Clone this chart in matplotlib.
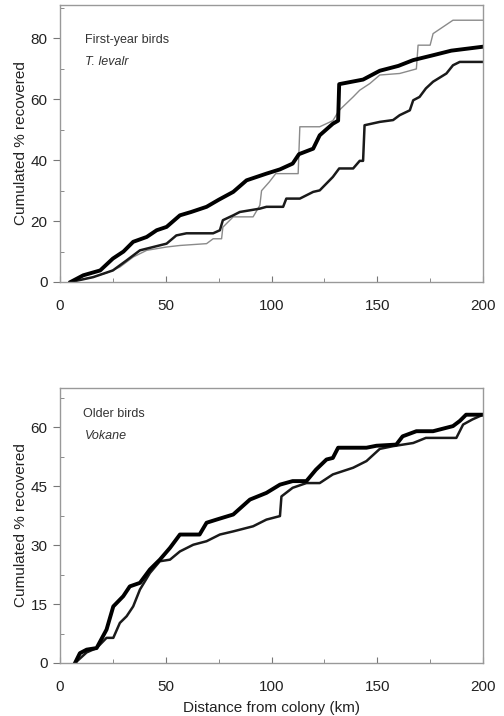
import matplotlib.pyplot as plt
from matplotlib.ticker import MultipleLocator

plt.rcParams['font.family'] = ['Liberation Sans', 'DejaVu Sans']

# Panel 1: first-year birds
top_thick_x = [5, 11, 19, 25, 30, 34.6, 41, 45.7, 50.4, 56.7, 62, 69.3, 75, 81.9, 88.2, 97.6, 104,
               110, 113, 119.7, 122.8, 129, 131.5, 132, 143.3, 151.2, 160, 167, 176.4, 185, 200]
top_thick_y = [0, 2.2, 3.8, 7.7, 10, 13.2, 14.8, 17, 18.1, 21.9, 23, 24.7, 27, 29.6, 33.4, 35.6, 37,
               38.9, 42, 43.8, 48.2, 52, 53, 65, 66.5, 69.4, 71, 72.9, 74.5, 76, 77.3]

top_mid_x = [5, 15.7, 25, 31.5, 37.8, 50.4, 55, 59.8, 72.4, 75.6, 77, 81.9, 85, 94.5, 97.6, 105.5,
             107, 113.4, 119.7, 122.8, 129, 132, 138.6, 141.7, 143.3, 144, 151.2, 157.5, 160.6,
             165.4, 167, 170, 173, 176.4, 182.7, 185.8, 189, 200]
top_mid_y = [0, 1.6, 3.8, 7.1, 10.4, 12.6, 15.3, 16, 16, 17, 20.3, 21.9, 23, 24.1, 24.7, 24.7,
             27.4, 27.4, 29.6, 30.1, 34.5, 37.3, 37.3, 39.8, 39.8, 51.5, 52.6, 53.2, 54.8,
             56.4, 59.7, 60.8, 63.6, 65.8, 68.5, 71.2, 72.3, 72.3]

top_thin_x = [5, 15, 22, 28.3, 34.6, 41, 50.4, 56.7, 69.3, 72.4, 76.4, 77, 81.9, 91.3, 94.5, 95.3,
              99, 102, 112.6, 113.4, 122.8, 129, 132, 138.6, 141.7, 146.5, 151.2, 160.6, 168.5,
              169.3, 175, 176.4, 185.8, 200]
top_thin_y = [0, 1.5, 3, 4.9, 8.2, 10.4, 11.5, 12, 12.6, 14.2, 14.2, 18, 21.4, 21.4, 25.2, 30,
              32.9, 35.6, 35.6, 51, 51, 53, 56.4, 60.8, 63, 65.2, 68, 68.5, 70,
              77.8, 77.8, 81.6, 86, 86]

# Panel 2: older birds
bot_thick_x = [7.1, 9.4, 12.6, 17.3, 22, 25.2, 29.9, 33, 37.8, 42.5, 47.2, 52, 56.7, 66, 69.3, 74,
               81.9, 89.8, 97.6, 104, 110, 116.5, 121, 126, 129, 131.5, 144.9, 149.6, 159, 162,
               168.5, 176.4, 185.8, 189, 192, 200]
bot_thick_y = [0, 2.5, 3.4, 3.8, 8.5, 14.4, 17, 19.5, 20.4, 23.8, 26.3, 29.3, 32.7, 32.7, 35.7, 36.5,
               37.8, 41.6, 43.3, 45.4, 46.3, 46.3, 49.2, 51.8, 52.2, 54.8, 54.8, 55.3, 55.6, 57.7,
               59, 59, 60.3, 61.6, 63.2, 63.2]

bot_mid_x = [7.1, 12.6, 17.3, 22, 25.2, 28.3, 31.5, 34.6, 37.8, 42.5, 47.2, 52, 56.7, 63, 69.3,
             75.6, 81.9, 91.3, 97.6, 104, 104.7, 110, 116.5, 122.8, 129, 138.6, 144.9, 151.2,
             157.5, 167, 173, 187.4, 190.6, 195, 200]
bot_mid_y = [0, 2.7, 3.8, 6.4, 6.4, 10.2, 11.9, 14.4, 18.7, 22.9, 25.9, 26.3, 28.4, 30.1, 31,
             32.7, 33.5, 34.8, 36.5, 37.4, 42.4, 44.6, 45.8, 45.8, 48, 49.7, 51.4, 54.5,
             55.2, 56, 57.3, 57.3, 60.7, 62, 63.2]

fig = plt.figure(figsize=(5.04, 7.16), dpi=100)
W, H = 504, 716
ax1 = fig.add_axes([60 / W, 1 - 282 / H, 423 / W, 277 / H])
ax2 = fig.add_axes([60 / W, 1 - 663 / H, 423 / W, 275 / H])

ax1.plot(top_thin_x, top_thin_y, color='#8a8a8a', lw=1.0)
ax1.plot(top_mid_x, top_mid_y, color='#1a1a1a', lw=1.8)
ax1.plot(top_thick_x, top_thick_y, color='black', lw=2.8)
ax1.set_ylim(0, 91)
ax1.yaxis.set_major_locator(MultipleLocator(20))
ax1.yaxis.set_minor_locator(MultipleLocator(10))
ax1.text(0.059, 0.874, 'First-year birds', transform=ax1.transAxes, fontsize=9, va='center',
         color='#333333')
ax1.text(0.059, 0.794, 'T. levalr', transform=ax1.transAxes, fontsize=9, va='center',
         style='italic', color='#333333')

ax2.plot(bot_mid_x, bot_mid_y, color='#1a1a1a', lw=1.8)
ax2.plot(bot_thick_x, bot_thick_y, color='black', lw=2.8)
ax2.set_ylim(0, 70)
ax2.yaxis.set_major_locator(MultipleLocator(15))
ax2.yaxis.set_minor_locator(MultipleLocator(7.5))
ax2.text(0.055, 0.905, 'Older birds', transform=ax2.transAxes, fontsize=9, va='center',
         color='#333333')
ax2.text(0.059, 0.825, 'Vokane', transform=ax2.transAxes, fontsize=9, va='center',
         style='italic', color='#333333')
ax2.set_xlabel('Distance from colony (km)', fontsize=11, labelpad=5, color='#222222')

for ax in (ax1, ax2):
    ax.set_xlim(0, 200)
    ax.xaxis.set_major_locator(MultipleLocator(50))
    ax.xaxis.set_minor_locator(MultipleLocator(25))
    ax.set_ylabel('Cumulated % recovered', fontsize=11, labelpad=2, color='#222222')
    ax.tick_params(axis='x', which='both', direction='in', labelsize=11, pad=12, color='#777777',
                   labelcolor='#222222')
    ax.tick_params(axis='y', which='major', direction='out', labelsize=11, pad=4, length=5,
                   color='#777777', labelcolor='#222222')
    ax.tick_params(axis='y', which='minor', direction='in', length=3, color='#777777')
    ax.tick_params(axis='x', which='major', length=4)
    ax.tick_params(axis='x', which='minor', length=3)
    for s in ax.spines.values():
        s.set_color('#999999')
        s.set_linewidth(1.0)

fig.savefig('out.png', dpi=100)
